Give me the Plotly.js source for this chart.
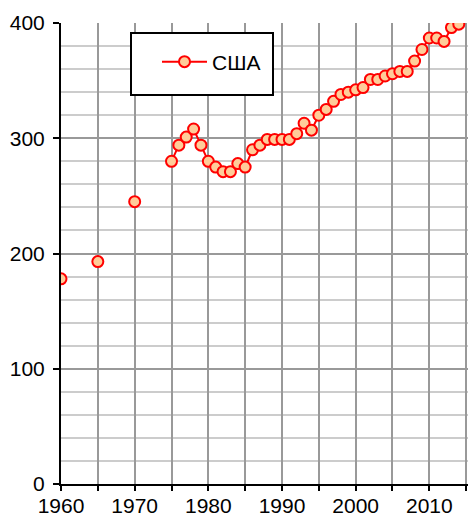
<!DOCTYPE html>
<html>
<head>
<meta charset="utf-8">
<script src="https://cdn.plot.ly/plotly-3.0.1.min.js"></script>
<style>html,body{margin:0;padding:0;background:#fff;}#chart{width:468px;height:515px;}</style>
</head>
<body>
<div id="chart"></div>
<script>
// Data (null entries break the line between isolated years)
var years = [1960, 1962, 1965, 1967, 1970, 1972,
  1975, 1976, 1977, 1978, 1979, 1980, 1981, 1982, 1983, 1984, 1985, 1986, 1987, 1988, 1989,
  1990, 1991, 1992, 1993, 1994, 1995, 1996, 1997, 1998, 1999, 2000, 2001, 2002, 2003, 2004,
  2005, 2006, 2007, 2008, 2009, 2010, 2011, 2012, 2013, 2014];
var values = [178, null, 193, null, 245, null,
  280, 294, 301, 308, 294, 280, 275, 271, 271, 278, 275, 290, 294, 299, 299,
  299, 299, 304, 313, 307, 320, 325, 332, 338, 340, 342, 344, 351, 351, 354,
  356, 358, 358, 367, 377, 387, 387, 384, 396, 399];
var seriesName = 'США';
var xTickVals = [1960, 1965, 1970, 1975, 1980, 1985, 1990, 1995, 2000, 2005, 2010, 2015];
var xTickText = ['1960', '', '1970', '', '1980', '', '1990', '', '2000', '', '2010', ''];

var W = 468, H = 515;
var m = {l: 61, r: 0, t: 23, b: 31};
var pw = W - m.l - m.r, ph = H - m.t - m.b;
function px(x) { return (x - m.l) / pw; }
function py(y) { return (H - m.b - y) / ph; }

var trace = {
  x: years, y: values, name: seriesName,
  type: 'scatter', mode: 'lines+markers', connectgaps: false,
  line: {color: '#ff0000', width: 2},
  marker: {symbol: 'circle', size: 11, color: '#ffcc99', line: {color: '#ff0000', width: 2}}
};

var layout = {
  width: W, height: H,
  margin: m,
  paper_bgcolor: '#ffffff', plot_bgcolor: '#ffffff',
  font: {family: 'Liberation Sans, Arial, sans-serif', size: 21, color: '#000'},
  showlegend: true,
  xaxis: {
    range: [1960, 2015.25], tickmode: 'array', tickvals: xTickVals, ticktext: xTickText,
    showgrid: true, gridcolor: '#999999', gridwidth: 2,
    showline: true, linecolor: '#000', linewidth: 2,
    ticks: 'outside', ticklen: 5, tickwidth: 2, tickcolor: '#000',
    ticklabelstandoff: -3,
    zeroline: false, fixedrange: true
  },
  yaxis: {
    range: [0, 400], tickmode: 'linear', tick0: 0, dtick: 100,
    showgrid: true, gridcolor: '#999999', gridwidth: 2,
    minor: {dtick: 20, showgrid: true, gridcolor: '#cccccc', gridwidth: 2, ticks: ''},
    showline: true, linecolor: '#000', linewidth: 2,
    ticks: 'outside', ticklen: 6, tickwidth: 2, tickcolor: '#000',
    ticklabelstandoff: 4,
    zeroline: false, fixedrange: true
  },
  legend: {
    x: px(157), y: py(62), xanchor: 'left', yanchor: 'middle',
    bgcolor: 'rgba(0,0,0,0)', borderwidth: 0, itemwidth: 45,
    font: {size: 21}
  },
  shapes: [{
    type: 'rect', xref: 'paper', yref: 'paper',
    x0: px(131), x1: px(273), y0: py(95), y1: py(33),
    line: {color: '#000', width: 2}, fillcolor: '#ffffff', layer: 'above'
  }]
};

Plotly.newPlot('chart', [trace], layout, {displayModeBar: false, staticPlot: true});
</script>
</body>
</html>
